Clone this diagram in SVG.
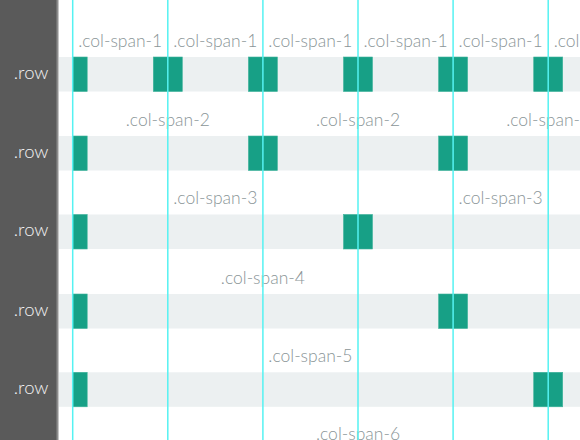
<svg xmlns="http://www.w3.org/2000/svg" width="580" height="440" viewBox="0 0 580 440">
  <style>
    .band { fill: #ecf0f1; }
    .g { fill: #17a086; stroke: #3fb39b; stroke-width: 0.6; }
    .lbl { font-family: "Lato", "Liberation Sans", sans-serif; font-weight: 300; font-size: 17.5px; fill: #8a9597; text-anchor: middle; }
    .rl { font-family: "Lato", "Liberation Sans", sans-serif; font-weight: 300; font-size: 18.5px; fill: #f2f2f2; text-anchor: end; }
    .guide { stroke: #55f2f2; stroke-width: 1.5; }
  </style>
  <rect x="0" y="0" width="580" height="440" fill="#ffffff"/>
  <g id="panel">
    <rect x="0" y="0" width="57" height="440" fill="#5a5a5a"/>
    <rect x="56.5" y="0" width="2" height="440" fill="#8c8c8c"/>
  </g>

  <g id="row1">
    <rect class="band" x="59" y="57" width="521" height="34.5"/>
    <text class="rl" x="48.5" y="78.7">.row</text>
    <rect class="g" x="72.7" y="57" width="14.5" height="34.5"/>
    <rect class="g" x="153.3" y="57" width="29" height="34.5"/>
    <rect class="g" x="248.4" y="57" width="29" height="34.5"/>
    <rect class="g" x="343.5" y="57" width="29" height="34.5"/>
    <rect class="g" x="438.6" y="57" width="29" height="34.5"/>
    <rect class="g" x="533.7" y="57" width="29" height="34.5"/>
    <text class="lbl" x="120.2" y="46.5">.col-span-1</text>
    <text class="lbl" x="215.3" y="46.5">.col-span-1</text>
    <text class="lbl" x="310.4" y="46.5">.col-span-1</text>
    <text class="lbl" x="405.5" y="46.5">.col-span-1</text>
    <text class="lbl" x="500.6" y="46.5">.col-span-1</text>
    <text class="lbl" x="595.7" y="46.5">.col-span-1</text>
  </g>

  <g id="row2">
    <rect class="band" x="59" y="136" width="521" height="34.5"/>
    <text class="rl" x="48.5" y="157.7">.row</text>
    <rect class="g" x="72.7" y="136" width="14.5" height="34.5"/>
    <rect class="g" x="248.4" y="136" width="29" height="34.5"/>
    <rect class="g" x="438.6" y="136" width="29" height="34.5"/>
    <text class="lbl" x="167.8" y="125.5">.col-span-2</text>
    <text class="lbl" x="358" y="125.5">.col-span-2</text>
    <text class="lbl" x="548.2" y="125.5">.col-span-2</text>
  </g>

  <g id="row3">
    <rect class="band" x="59" y="214.5" width="521" height="34.5"/>
    <text class="rl" x="48.5" y="236.2">.row</text>
    <rect class="g" x="72.7" y="214.5" width="14.5" height="34.5"/>
    <rect class="g" x="343.5" y="214.5" width="29" height="34.5"/>
    <text class="lbl" x="215.3" y="204">.col-span-3</text>
    <text class="lbl" x="500.6" y="204">.col-span-3</text>
  </g>

  <g id="row4">
    <rect class="band" x="59" y="294" width="521" height="34.5"/>
    <text class="rl" x="48.5" y="315.7">.row</text>
    <rect class="g" x="72.7" y="294" width="14.5" height="34.5"/>
    <rect class="g" x="438.6" y="294" width="29" height="34.5"/>
    <text class="lbl" x="262.9" y="283.5">.col-span-4</text>
  </g>

  <g id="row5">
    <rect class="band" x="59" y="372.3" width="521" height="34.5"/>
    <text class="rl" x="48.5" y="394">.row</text>
    <rect class="g" x="72.7" y="372.3" width="14.5" height="34.5"/>
    <rect class="g" x="533.7" y="372.3" width="29" height="34.5"/>
    <text class="lbl" x="310.4" y="361.8">.col-span-5</text>
  </g>

  <g id="row6">
    <text class="lbl" x="358" y="440.3">.col-span-6</text>
  </g>

  <g id="connectors">
    <line class="guide" x1="72.7" y1="0" x2="72.7" y2="440"/>
    <line class="guide" x1="167.8" y1="0" x2="167.8" y2="440"/>
    <line class="guide" x1="262.9" y1="0" x2="262.9" y2="440"/>
    <line class="guide" x1="358" y1="0" x2="358" y2="440"/>
    <line class="guide" x1="453.1" y1="0" x2="453.1" y2="440"/>
    <line class="guide" x1="548.2" y1="0" x2="548.2" y2="440"/>
  </g>
</svg>
